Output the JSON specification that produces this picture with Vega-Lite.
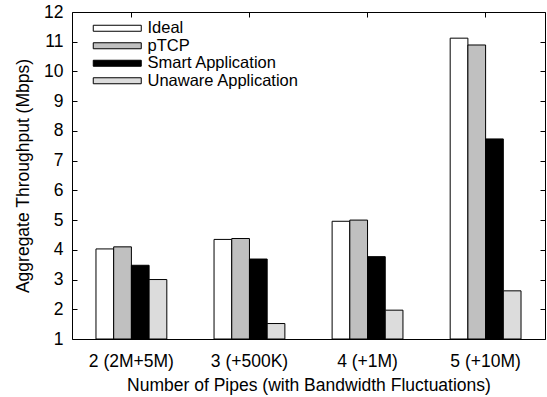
{
  "$schema": "https://vega.github.io/schema/vega-lite/v6.json",
  "width": 473,
  "height": 327,
  "autosize": "none",
  "padding": {"left": 72, "top": 12, "right": 2, "bottom": 58},
  "background": "white",
  "config": {
    "view": {"stroke": "black", "strokeWidth": 1},
    "font": "Liberation Sans",
    "axis": {"labelFont": "Liberation Sans", "titleFont": "Liberation Sans", "labelFontSize": 17.5, "titleFontSize": 17.5, "titleFontWeight": "normal", "labelColor": "black", "titleColor": "black", "domainColor": "black", "tickColor": "black", "grid": false},
    "legend": {"labelFont": "Liberation Sans", "labelFontSize": 16.5, "labelColor": "black", "labelLimit": 400}
  },
  "data": {"values": [
    {"group": "2 (2M+5M)", "series": "Ideal", "value": 4.03},
    {"group": "2 (2M+5M)", "series": "pTCP", "value": 4.1},
    {"group": "2 (2M+5M)", "series": "Smart Application", "value": 3.48},
    {"group": "2 (2M+5M)", "series": "Unaware Application", "value": 3.0},
    {"group": "3 (+500K)", "series": "Ideal", "value": 4.35},
    {"group": "3 (+500K)", "series": "pTCP", "value": 4.38},
    {"group": "3 (+500K)", "series": "Smart Application", "value": 3.69},
    {"group": "3 (+500K)", "series": "Unaware Application", "value": 1.52},
    {"group": "4 (+1M)", "series": "Ideal", "value": 4.96},
    {"group": "4 (+1M)", "series": "pTCP", "value": 5.0},
    {"group": "4 (+1M)", "series": "Smart Application", "value": 3.77},
    {"group": "4 (+1M)", "series": "Unaware Application", "value": 1.97},
    {"group": "5 (+10M)", "series": "Ideal", "value": 11.12},
    {"group": "5 (+10M)", "series": "pTCP", "value": 10.89},
    {"group": "5 (+10M)", "series": "Smart Application", "value": 7.73},
    {"group": "5 (+10M)", "series": "Unaware Application", "value": 2.62}
  ]},
  "layer": [
    {
      "mark": {"type": "bar", "stroke": "black", "strokeWidth": 1, "opacity": 0},
      "encoding": {
        "x": {"field": "group", "type": "nominal", "sort": null, "scale": {"paddingInner": 0.4, "paddingOuter": 0.203},
              "axis": {"orient": "top", "labels": false, "title": null, "tickSize": -5, "domain": false}},
        "xOffset": {"field": "series", "type": "nominal", "sort": null, "scale": {"paddingInner": 0, "paddingOuter": 0}},
        "y": {"field": "value", "type": "quantitative", "scale": {"domain": [1, 12], "zero": false, "nice": false},
              "axis": {"orient": "right", "labels": false, "title": null, "values": [1,2,3,4,5,6,7,8,9,10,11,12], "tickSize": -5, "domain": false}},
        "y2": {"datum": 1}
      }
    },
    {
      "mark": {"type": "bar", "stroke": "black", "strokeWidth": 1},
      "encoding": {
        "x": {"field": "group", "type": "nominal", "sort": null, "scale": {"paddingInner": 0.4, "paddingOuter": 0.203},
              "axis": {"orient": "bottom", "labelAngle": 0, "title": "Number of Pipes (with Bandwidth Fluctuations)", "tickSize": -5, "labelPadding": 18, "titlePadding": 7, "domain": false}},
        "xOffset": {"field": "series", "type": "nominal", "sort": null, "scale": {"paddingInner": 0, "paddingOuter": 0}},
        "y": {"field": "value", "type": "quantitative", "scale": {"domain": [1, 12], "zero": false, "nice": false},
              "axis": {"orient": "left", "title": "Aggregate Throughput (Mbps)", "values": [1,2,3,4,5,6,7,8,9,10,11,12], "tickSize": -5, "labelPadding": 14, "titlePadding": 11, "domain": false}},
        "y2": {"datum": 1},
        "fill": {"field": "series", "type": "nominal", "sort": null,
                 "scale": {"domain": ["Ideal", "pTCP", "Smart Application", "Unaware Application"], "range": ["white", "#c0c0c0", "black", "#dcdcdc"]},
                 "legend": {"title": null, "orient": "none", "legendX": 37, "legendY": 8, "symbolType": "M-4,-0.5L4,-0.5L4,0.5L-4,0.5Z", "symbolSize": 144, "symbolStrokeColor": "black", "symbolStrokeWidth": 1, "labelOffset": 22, "rowPadding": 0.5, "padding": 0, "labelLimit": 400}}
      }
    }
  ],
  "resolve": {"axis": {"x": "independent", "y": "independent"}}
}
